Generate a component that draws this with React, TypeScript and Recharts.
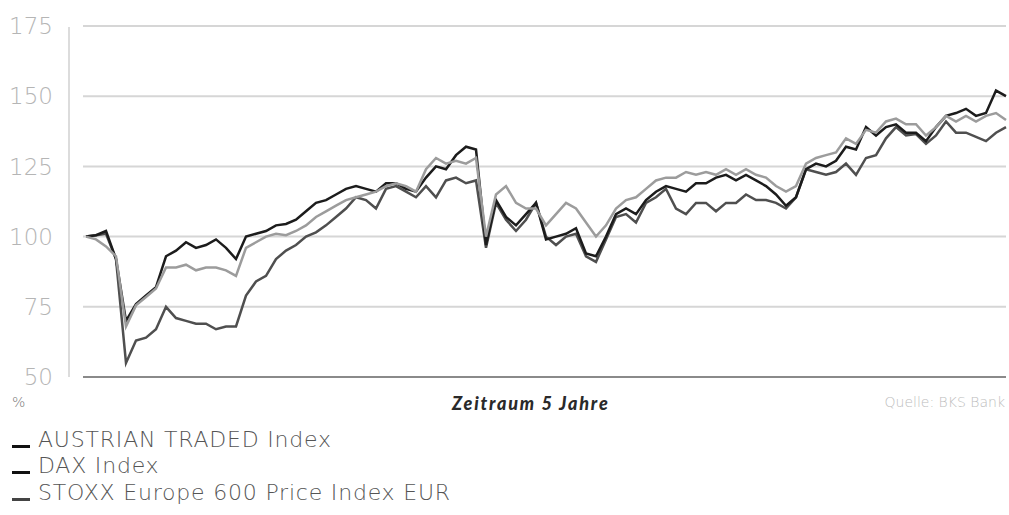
import React from 'react'
import { LineChart, Line, XAxis, YAxis, CartesianGrid, ReferenceLine } from 'recharts'

// values, roughly one point every 10px (about 3 weeks)
const atx = [
  100, 100.5, 101, 92, 55, 63, 64, 67, 75, 71, 70, 69, 69, 67, 68, 68,
  79, 84, 86, 92, 95, 97, 100, 101.5, 104, 107, 110, 114, 113, 110, 117, 118,
  116, 114, 118, 114, 120, 121, 119, 120, 96, 112, 106, 102, 106, 112, 100, 97,
  100, 101, 93, 91, 99, 107, 108, 105, 112, 114, 117, 110, 108, 112, 112, 109,
  112, 112, 115, 113, 113, 112, 110, 114, 124, 123, 122, 123, 126, 122, 128, 129,
  135, 139, 136, 136.5, 133, 136, 141, 137, 137, 135.5, 134, 137, 139,
]
const dax = [
  100, 100.5, 102, 92, 70, 76, 79, 82, 93, 95, 98, 96, 97, 99, 96, 92,
  100, 101, 102, 104, 104.5, 106, 109, 112, 113, 115, 117, 118, 117, 116, 119, 119,
  117, 116, 121, 125, 124, 129, 132, 131, 97, 113, 107, 104, 108, 112, 99, 100,
  101, 103, 94, 93, 100, 108, 110, 108, 113, 116, 118, 117, 116, 119, 119, 121,
  122, 120, 122, 120, 118, 115, 111, 114, 124, 126, 125, 127, 132, 131, 139, 136,
  139, 140, 137, 137, 134, 139, 143, 144, 145.5, 143, 144, 152, 150,
]
const stoxx = [
  100, 99, 96.5, 93, 68, 75.5, 78.5, 81.5, 89, 89, 90, 88, 89, 89, 88, 86,
  96, 98, 100, 101, 100.5, 102, 104, 107, 109, 111, 113, 114, 115, 116, 118, 119,
  118, 116, 124, 128, 126, 127, 126, 128, 100, 115, 118, 112, 110, 110, 104, 108,
  112, 110, 105, 100, 104, 110, 113, 114, 117, 120, 121, 121, 123, 122, 123, 122,
  124, 122, 124, 122, 121, 118, 116, 118, 126, 128, 129, 130, 135, 133, 138, 137,
  141, 142, 140, 140, 136, 139, 143, 141, 143, 141, 143, 144, 141.5,
]

const yTicks = [50, 75, 100, 125, 150, 175]
const names = ['AUSTRIAN TRADED Index', 'DAX Index', 'STOXX Europe 600 Price Index EUR']
const colors = ['#4f4f4f', '#1c1c1c', '#9c9c9c']
const keys = ['atx', 'dax', 'stoxx']

const data = atx.map((v, i) => ({ i, atx: v, dax: dax[i], stoxx: stoxx[i] }))

const thin = '"DejaVu Sans", sans-serif'

export default function App() {
  return (
    <div style={{ position: 'absolute', left: 0, top: 0, width: 1009, height: 515, background: '#fff', fontFamily: thin }}>
      <LineChart width={1009} height={400} data={data} margin={{ top: 26, right: 3, bottom: 23, left: 0 }}>
        <CartesianGrid vertical={false} stroke="#d6d6d6" strokeWidth={2} />
        <XAxis dataKey="i" type="number" domain={[0, data.length - 1]} hide padding={{ left: 3, right: 0 }} />
        <YAxis
          domain={[50, 175]}
          ticks={yTicks}
          interval={0}
          width={83}
          axisLine={false}
          tickLine={false}
          tick={{ fill: '#b5b5b5', fontSize: 23, fontWeight: 200, fontFamily: thin }}
          dx={-22}
        />
        <ReferenceLine y={50} stroke="#8a8a8a" strokeWidth={2} />
        {keys.map((k, j) => (
          <Line key={k} dataKey={k} type="linear" stroke={colors[j]} strokeWidth={2.5} dot={false} isAnimationActive={false} />
        ))}
      </LineChart>
      {/* separate y axis rule, left of the grid */}
      <div style={{ position: 'absolute', left: 68, top: 27, width: 2, height: 350, background: '#dcdcdc' }} />
      <div style={{ position: 'absolute', left: 12, top: 394, fontSize: 14, fontWeight: 200, color: '#777' }}>%</div>
      <div style={{ position: 'absolute', left: 452, top: 392, fontSize: 18, fontWeight: 900, fontStyle: 'italic', letterSpacing: 1.8, color: '#2a2a2a', fontFamily: 'Lato, sans-serif' }}>
        Zeitraum 5 Jahre
      </div>
      <div style={{ position: 'absolute', right: 4, top: 394, fontSize: 14, fontWeight: 200, color: '#bdbdbd' }}>Quelle: BKS Bank</div>
      {names.map((n, j) => (
        <div key={n} style={{ position: 'absolute', left: 12, top: 426 + j * 26.5, height: 26, display: 'flex', alignItems: 'center', fontSize: 22, fontWeight: 200, letterSpacing: 0.8, color: '#555', whiteSpace: 'nowrap' }}>
          <span style={{ display: 'inline-block', width: 18, height: 3, background: j === 2 ? '#444' : '#111', marginRight: 8, marginTop: 14 }} />
          {n}
        </div>
      ))}
    </div>
  )
}
